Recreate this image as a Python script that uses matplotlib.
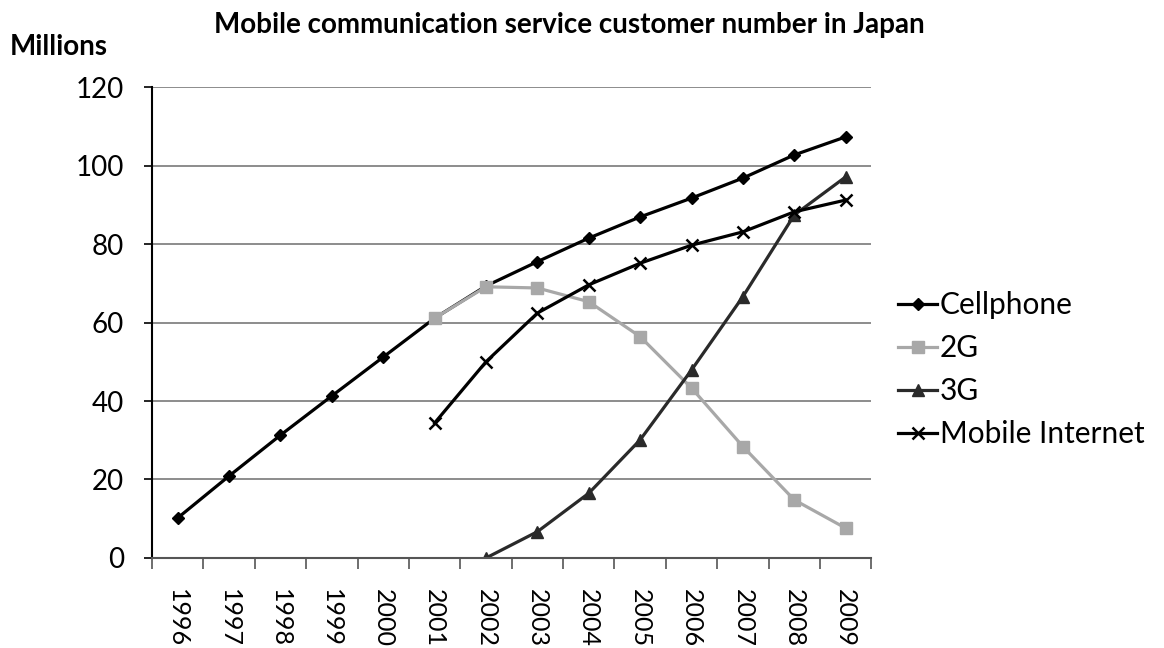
import numpy as np
import matplotlib.pyplot as plt

years = ['1996', '1997', '1998', '1999', '2000', '2001', '2002',
         '2003', '2004', '2005', '2006', '2007', '2008', '2009']
nan = np.nan
cellphone = [10.2, 20.9, 31.3, 41.3, 51.2, 61.1, 69.3, 75.5, 81.5, 86.9, 91.7, 96.8, 102.7, 107.3]
g2 = [nan, nan, nan, nan, nan, 61.1, 69.1, 68.8, 65.3, 56.4, 43.3, 28.4, 14.8, 7.6]
g3 = [nan, nan, nan, nan, nan, nan, 0.0, 6.7, 16.5, 30.1, 47.9, 66.6, 87.4, 97.1]
mobile_internet = [nan, nan, nan, nan, nan, 34.4, 50.0, 62.4, 69.6, 75.1, 79.7, 83.1, 88.2, 91.2]

plt.rcParams['font.family'] = ['Lato', 'DejaVu Sans']

fig = plt.figure(figsize=(11.64, 6.48), dpi=100)
ax = fig.add_axes([0.1306, 0.1389, 0.618, 0.7268])

x = np.arange(len(years))
ax.plot(x, cellphone, color='black', lw=2.3, marker='D', ms=6, label='Cellphone')
ax.plot(x, g2, color='#a8a8a8', lw=2.3, marker='s', ms=9, label='2G')
ax.plot(x, g3, color='#2a2a2a', lw=2.3, marker='^', ms=8, label='3G')
ax.plot(x, mobile_internet, color='black', lw=2.3, marker='x', ms=9, mew=1.8,
        label='Mobile Internet')

ax.set_xlim(-0.5, len(years) - 0.5)
ax.set_ylim(0, 120)
ax.set_yticks(range(0, 121, 20))
ax.yaxis.grid(True, color='#8c8c8c', lw=1.4)
ax.set_axisbelow(True)

ax.set_xticks(x)
ax.set_xticklabels(years, rotation=270, fontsize=18)
ax.tick_params(axis='x', which='major', length=0, pad=22)
ax.set_xticks(np.arange(-0.5, len(years)), minor=True)
ax.tick_params(axis='x', which='minor', length=8, width=1.2, color='#555555', direction='out')
ax.tick_params(axis='y', labelsize=20, length=6, width=1.2, pad=14)

for side in ['top', 'right']:
    ax.spines[side].set_visible(False)
ax.spines['left'].set_linewidth(1.5)
ax.spines['bottom'].set_linewidth(1.5)
ax.spines['bottom'].set_color('#555555')

ax.legend(loc='center left', bbox_to_anchor=(1.0, 0.40), frameon=False,
          fontsize=21.5, handlelength=1.3, handletextpad=0.1, labelspacing=0.5)

fig.text(0.489, 0.962, 'Mobile communication service customer number in Japan',
         ha='center', va='center', fontsize=20, fontweight='bold')
fig.text(0.008, 0.928, 'Millions', ha='left', va='center', fontsize=20, fontweight='bold')

fig.savefig('out.png', dpi=100)
